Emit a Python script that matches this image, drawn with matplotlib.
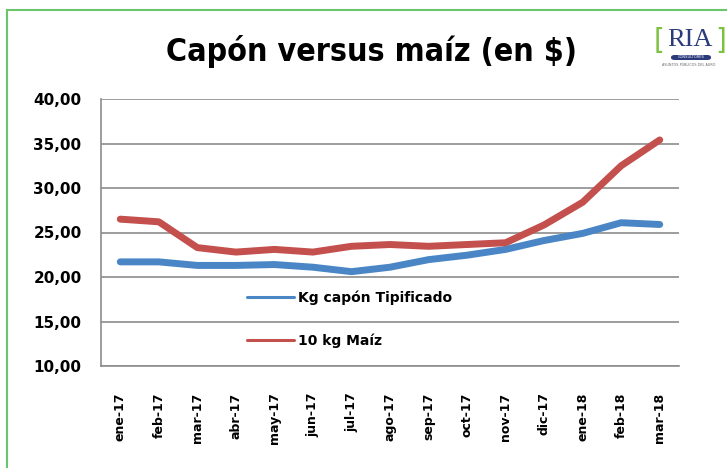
import matplotlib
matplotlib.use("Agg")
import matplotlib.pyplot as plt
from matplotlib.patches import Rectangle, FancyBboxPatch

months = ["ene-17", "feb-17", "mar-17", "abr-17", "may-17", "jun-17", "jul-17",
          "ago-17", "sep-17", "oct-17", "nov-17", "dic-17", "ene-18", "feb-18", "mar-18"]
capon = [21.7, 21.7, 21.3, 21.3, 21.4, 21.1, 20.6, 21.1, 21.95, 22.45, 23.1, 24.1, 24.9, 26.1, 25.9]
maiz = [26.5, 26.2, 23.3, 22.8, 23.1, 22.8, 23.45, 23.65, 23.45, 23.65, 23.85, 25.85, 28.4, 32.5, 35.4]
yticks = [10, 15, 20, 25, 30, 35, 40]
title = "Capón versus maíz (en $)"
series_names = ["Kg capón Tipificado", "10 kg Maíz"]

W, H = 727, 468
fig = plt.figure(figsize=(W / 100, H / 100), dpi=100)
fig.patch.set_facecolor("white")

# green outer border
fig.add_artist(Rectangle((7 / W, -0.1), 1.2, 1 - 10 / H + 0.1, transform=fig.transFigure,
                         fill=False, edgecolor="#6cc46c", linewidth=1.5))

ax = fig.add_axes([101 / W, 1 - 366 / H, (679 - 101) / W, (366 - 99) / H])
x = list(range(len(months)))
blue = "#4a86c6"
red = "#c4504d"
ax.plot(x, capon, color=blue, linewidth=5, solid_capstyle="round", solid_joinstyle="round",
        label=series_names[0], zorder=3)
ax.plot(x, maiz, color=red, linewidth=5, solid_capstyle="round", solid_joinstyle="round",
        label=series_names[1], zorder=3)

ax.set_xlim(-0.5, len(months) - 0.5)
ax.set_ylim(10, 40)
ax.set_yticks(yticks)
ax.set_yticklabels([f"{v:.2f}".replace(".", ",") for v in yticks],
                   fontsize=11, fontweight="bold")
ax.set_xticks(x)
ax.set_xticklabels(months, rotation=90, fontsize=9, fontweight="bold", va="top", ha="center")
ax.tick_params(axis="both", length=0)
ax.tick_params(axis="y", pad=14)
ax.tick_params(axis="x", pad=19)
ax.grid(axis="y", color="#8c8c8c", linewidth=1.2)
ax.set_axisbelow(True)
for s in ["top", "right"]:
    ax.spines[s].set_visible(False)
ax.spines["left"].set_color("#8c8c8c")
ax.spines["bottom"].set_color("#8c8c8c")
ax.spines["left"].set_linewidth(1.2)
ax.spines["bottom"].set_linewidth(1.2)

leg = ax.legend(loc="upper left", bbox_to_anchor=(0.2425, 0.303), frameon=False,
                prop={"weight": "bold", "size": 10}, handlelength=3.4,
                handletextpad=0.3, labelspacing=2.05, borderaxespad=0)
for ln in leg.get_lines():
    ln.set_linewidth(2.2)

fig.text(372 / W, 1 - 51 / H, title, ha="center", va="center", fontsize=23,
         fontweight="bold", family="DejaVu Sans", fontstretch="condensed")

# logo
fig.text(690 / W, 1 - 40 / H, "RIA", ha="center", va="center", fontsize=19,
         family="Liberation Serif", color="#2b3a7a")
fig.text(659 / W, 1 - 41 / H, "[", ha="center", va="center", fontsize=20,
         color="#7cc142", family="DejaVu Sans")
fig.text(721 / W, 1 - 41 / H, "]", ha="center", va="center", fontsize=20,
         color="#7cc142", family="DejaVu Sans")
fig.add_artist(FancyBboxPatch((671 / W, 1 - 60 / H), 40 / W, 5 / H, transform=fig.transFigure,
                              boxstyle="round,pad=0,rounding_size=0.005",
                              facecolor="#2b3a7a", edgecolor="none"))
fig.text(691 / W, 1 - 57.5 / H, "CONSULTORES", ha="center", va="center", fontsize=2.6,
         color="white")
fig.text(689 / W, 1 - 65 / H, "ASUNTOS PÚBLICOS DEL AGRO", ha="center", va="center",
         fontsize=2.4, color="#666666")

fig.savefig("out.png", dpi=100)
